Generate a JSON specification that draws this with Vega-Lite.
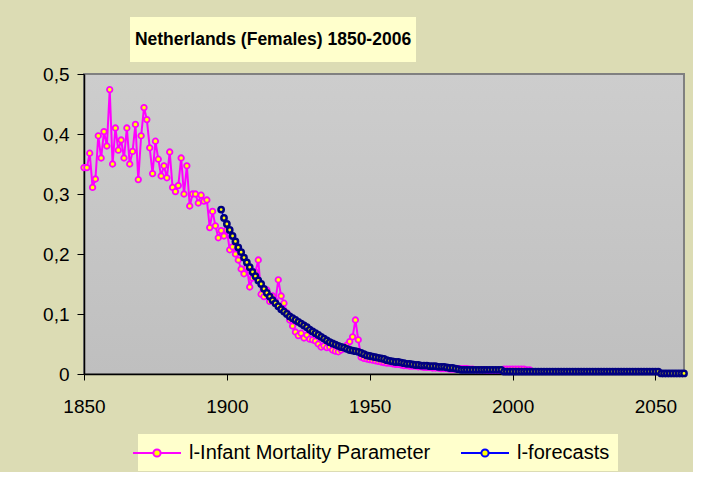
{
  "$schema": "https://vega.github.io/schema/vega-lite/v6.json",
  "background": "#dcdcb4",
  "padding": {"left": 41, "top": 17, "right": 0, "bottom": 0},
  "spacing": 2,
  "resolve": {"scale": {"color": "independent"}},
  "config": {"view": {"stroke": null}, "concat": {"spacing": 0}},
  "vconcat": [
    {
      "hconcat": [
        {"width": 46, "height": 45, "data": {"values": []}, "mark": "point"},
        {
          "width": 286, "height": 45,
          "view": {"fill": "#ffffcc", "stroke": null},
          "data": {"values": [{"title": "Netherlands (Females) 1850-2006"}]},
          "mark": {"type": "text", "font": "Liberation Sans", "fontSize": 17.5, "fontWeight": "bold", "color": "#000000", "align": "center", "baseline": "middle"},
          "encoding": {"text": {"field": "title", "type": "nominal"}}
        }
      ],
      "spacing": 0
    },
    {
      "width": 600,
      "height": 300,
      "view": {
        "fill": {"gradient": "linear", "x1": 0, "y1": 0, "x2": 0, "y2": 1, "stops": [{"offset": 0, "color": "#cdcdcd"}, {"offset": 1, "color": "#bfbfbf"}]},
        "stroke": "#808080",
        "strokeWidth": 2
      },
      "data": {"values": [
        {"year":1850,"imp":0.344},{"year":1851,"imp":0.344},{"year":1852,"imp":0.368},{"year":1853,"imp":0.311},{"year":1854,"imp":0.325},
        {"year":1855,"imp":0.397},{"year":1856,"imp":0.360},{"year":1857,"imp":0.404},{"year":1858,"imp":0.380},{"year":1859,"imp":0.474},
        {"year":1860,"imp":0.350},{"year":1861,"imp":0.410},{"year":1862,"imp":0.373},{"year":1863,"imp":0.390},{"year":1864,"imp":0.360},
        {"year":1865,"imp":0.410},{"year":1866,"imp":0.350},{"year":1867,"imp":0.371},{"year":1868,"imp":0.416},{"year":1869,"imp":0.324},
        {"year":1870,"imp":0.397},{"year":1871,"imp":0.444},{"year":1872,"imp":0.424},{"year":1873,"imp":0.377},{"year":1874,"imp":0.334},
        {"year":1875,"imp":0.388},{"year":1876,"imp":0.358},{"year":1877,"imp":0.330},{"year":1878,"imp":0.347},{"year":1879,"imp":0.327},
        {"year":1880,"imp":0.370},{"year":1881,"imp":0.311},{"year":1882,"imp":0.304},{"year":1883,"imp":0.314},{"year":1884,"imp":0.360},
        {"year":1885,"imp":0.300},{"year":1886,"imp":0.347},{"year":1887,"imp":0.280},{"year":1888,"imp":0.300},{"year":1889,"imp":0.300},
        {"year":1890,"imp":0.285},{"year":1891,"imp":0.298},{"year":1892,"imp":0.288},{"year":1893,"imp":0.290},{"year":1894,"imp":0.244},
        {"year":1895,"imp":0.271},{"year":1896,"imp":0.247},{"year":1897,"imp":0.227},
        {"year":1898,"imp":0.239,"fc":0.274},{"year":1899,"imp":0.230,"fc":0.260},{"year":1900,"imp":0.240,"fc":0.250},
        {"year":1901,"imp":0.207,"fc":0.240},{"year":1902,"imp":0.212,"fc":0.230},{"year":1903,"imp":0.200,"fc":0.221},
        {"year":1904,"imp":0.190,"fc":0.211},{"year":1905,"imp":0.175,"fc":0.203},{"year":1906,"imp":0.167,"fc":0.194},
        {"year":1907,"imp":0.178,"fc":0.186},{"year":1908,"imp":0.145,"fc":0.178},{"year":1909,"imp":0.160,"fc":0.170},
        {"year":1910,"imp":0.170,"fc":0.163},{"year":1911,"imp":0.190,"fc":0.156},{"year":1912,"imp":0.133,"fc":0.150},
        {"year":1913,"imp":0.129,"fc":0.142},{"year":1914,"imp":0.140,"fc":0.135},{"year":1915,"imp":0.121,"fc":0.129},
        {"year":1916,"imp":0.130,"fc":0.123},{"year":1917,"imp":0.122,"fc":0.118},{"year":1918,"imp":0.157,"fc":0.113},
        {"year":1919,"imp":0.130,"fc":0.108},{"year":1920,"imp":0.118,"fc":0.104},{"year":1921,"imp":0.102,"fc":0.100},
        {"year":1922,"imp":0.090,"fc":0.096},{"year":1923,"imp":0.080,"fc":0.093},{"year":1924,"imp":0.070,"fc":0.090},
        {"year":1925,"imp":0.064,"fc":0.087},{"year":1926,"imp":0.068,"fc":0.084},{"year":1927,"imp":0.060,"fc":0.081},
        {"year":1928,"imp":0.065,"fc":0.078},{"year":1929,"imp":0.058,"fc":0.074},{"year":1930,"imp":0.057,"fc":0.071},
        {"year":1931,"imp":0.055,"fc":0.068},{"year":1932,"imp":0.050,"fc":0.065},{"year":1933,"imp":0.045,"fc":0.062},
        {"year":1934,"imp":0.047,"fc":0.059},{"year":1935,"imp":0.044,"fc":0.056},{"year":1936,"imp":0.045,"fc":0.053},
        {"year":1937,"imp":0.040,"fc":0.051},{"year":1938,"imp":0.038,"fc":0.049},{"year":1939,"imp":0.037,"fc":0.047},
        {"year":1940,"imp":0.040,"fc":0.045},{"year":1941,"imp":0.042,"fc":0.044},{"year":1942,"imp":0.048,"fc":0.042},
        {"year":1943,"imp":0.054,"fc":0.040},{"year":1944,"imp":0.062,"fc":0.039},{"year":1945,"imp":0.090,"fc":0.038},
        {"year":1946,"imp":0.057,"fc":0.037},{"year":1947,"imp":0.028,"fc":0.035},{"year":1948,"imp":0.026,"fc":0.033},
        {"year":1949,"imp":0.025,"fc":0.031},{"year":1950,"imp":0.024,"fc":0.030},{"year":1951,"imp":0.023,"fc":0.029},
        {"year":1952,"imp":0.022,"fc":0.028},{"year":1953,"imp":0.021,"fc":0.027},{"year":1954,"imp":0.020,"fc":0.026},
        {"year":1955,"imp":0.019,"fc":0.025},{"year":1956,"imp":0.018,"fc":0.023},{"year":1957,"imp":0.018,"fc":0.022},
        {"year":1958,"imp":0.017,"fc":0.021},{"year":1959,"imp":0.016,"fc":0.020},{"year":1960,"imp":0.016,"fc":0.020},
        {"year":1961,"imp":0.015,"fc":0.019},{"year":1962,"imp":0.014,"fc":0.018},{"year":1963,"imp":0.014,"fc":0.017},
        {"year":1964,"imp":0.013,"fc":0.017},{"year":1965,"imp":0.013,"fc":0.016},{"year":1966,"imp":0.013,"fc":0.015},
        {"year":1967,"imp":0.012,"fc":0.015},{"year":1968,"imp":0.012,"fc":0.014},{"year":1969,"imp":0.011,"fc":0.014},
        {"year":1970,"imp":0.011,"fc":0.014},{"year":1971,"imp":0.011,"fc":0.013},{"year":1972,"imp":0.010,"fc":0.013},
        {"year":1973,"imp":0.010,"fc":0.013},{"year":1974,"imp":0.010,"fc":0.012},{"year":1975,"imp":0.009,"fc":0.012},
        {"year":1976,"imp":0.009,"fc":0.012},{"year":1977,"imp":0.009,"fc":0.011},{"year":1978,"imp":0.008,"fc":0.010},
        {"year":1979,"imp":0.008,"fc":0.010},{"year":1980,"imp":0.008,"fc":0.009},{"year":1981,"imp":0.009,"fc":0.008},
        {"year":1982,"imp":0.009,"fc":0.007},{"year":1983,"imp":0.009,"fc":0.007},{"year":1984,"imp":0.009,"fc":0.007},
        {"year":1985,"imp":0.008,"fc":0.007},{"year":1986,"imp":0.008,"fc":0.007},{"year":1987,"imp":0.007,"fc":0.007},
        {"year":1988,"imp":0.007,"fc":0.007},{"year":1989,"imp":0.007,"fc":0.007},{"year":1990,"imp":0.007,"fc":0.007},
        {"year":1991,"imp":0.006,"fc":0.007},{"year":1992,"imp":0.006,"fc":0.007},{"year":1993,"imp":0.006,"fc":0.007},
        {"year":1994,"imp":0.006,"fc":0.007},{"year":1995,"imp":0.006,"fc":0.007},{"year":1996,"imp":0.007,"fc":0.007},
        {"year":1997,"imp":0.008,"fc":0.004},{"year":1998,"imp":0.008,"fc":0.004},{"year":1999,"imp":0.008,"fc":0.004},
        {"year":2000,"imp":0.008,"fc":0.004},{"year":2001,"imp":0.008,"fc":0.004},{"year":2002,"imp":0.008,"fc":0.004},
        {"year":2003,"imp":0.008,"fc":0.004},{"year":2004,"imp":0.008,"fc":0.004},{"year":2005,"imp":0.007,"fc":0.004},
        {"year":2006,"imp":0.007,"fc":0.004},
        {"year":2007,"fc":0.004},{"year":2008,"fc":0.004},{"year":2009,"fc":0.004},{"year":2010,"fc":0.004},{"year":2011,"fc":0.004},
        {"year":2012,"fc":0.004},{"year":2013,"fc":0.004},{"year":2014,"fc":0.004},{"year":2015,"fc":0.004},{"year":2016,"fc":0.004},
        {"year":2017,"fc":0.004},{"year":2018,"fc":0.004},{"year":2019,"fc":0.004},{"year":2020,"fc":0.004},{"year":2021,"fc":0.004},
        {"year":2022,"fc":0.004},{"year":2023,"fc":0.004},{"year":2024,"fc":0.004},{"year":2025,"fc":0.004},{"year":2026,"fc":0.004},
        {"year":2027,"fc":0.004},{"year":2028,"fc":0.004},{"year":2029,"fc":0.004},{"year":2030,"fc":0.004},{"year":2031,"fc":0.004},
        {"year":2032,"fc":0.004},{"year":2033,"fc":0.004},{"year":2034,"fc":0.004},{"year":2035,"fc":0.004},{"year":2036,"fc":0.004},
        {"year":2037,"fc":0.004},{"year":2038,"fc":0.004},{"year":2039,"fc":0.004},{"year":2040,"fc":0.004},{"year":2041,"fc":0.004},
        {"year":2042,"fc":0.004},{"year":2043,"fc":0.004},{"year":2044,"fc":0.004},{"year":2045,"fc":0.004},{"year":2046,"fc":0.004},
        {"year":2047,"fc":0.004},{"year":2048,"fc":0.004},{"year":2049,"fc":0.004},{"year":2050,"fc":0.004},{"year":2051,"fc":0.004},
        {"year":2052,"fc":0.001},{"year":2053,"fc":0.001},{"year":2054,"fc":0.001},{"year":2055,"fc":0.001},{"year":2056,"fc":0.001},
        {"year":2057,"fc":0.001},{"year":2058,"fc":0.001},{"year":2059,"fc":0.001},{"year":2060,"fc":0.001}
      ]},
      "transform": [
        {"fold": ["imp", "fc"], "as": ["series", "value"]},
        {"filter": "isValid(datum.value)"}
      ],
      "encoding": {
        "x": {
          "field": "year", "type": "quantitative",
          "scale": {"domain": [1850, 2060], "nice": false, "zero": false},
          "axis": {"values": [1850, 1900, 1950, 2000, 2050], "format": "d", "title": null, "grid": false,
                   "labelFont": "Liberation Sans", "labelFontSize": 19, "labelColor": "#000000", "labelFlush": false,
                   "tickColor": "#000000", "tickSize": 6, "tickWidth": 1, "domainColor": "#000000", "domainWidth": 1.5, "labelPadding": 17}
        },
        "y": {
          "field": "value", "type": "quantitative",
          "scale": {"domain": [0, 0.5], "nice": false},
          "axis": {"values": [0, 0.1, 0.2, 0.3, 0.4, 0.5], "labelExpr": "datum.value == 0 ? '0' : replace(format(datum.value, '.1f'), '.', ',')",
                   "title": null, "grid": false, "labelFont": "Liberation Sans", "labelFontSize": 19, "labelColor": "#000000",
                   "tickColor": "#000000", "tickSize": 7, "tickWidth": 1, "domainColor": "#000000", "domainWidth": 1.5, "labelPadding": 8}
        }
      },
      "layer": [
        {
          "transform": [{"filter": "datum.series == 'imp'"}],
          "mark": {"type": "line", "strokeWidth": 2},
          "encoding": {
            "color": {
              "field": "series", "type": "nominal",
              "scale": {"domain": ["imp", "fc"], "range": ["#ff00ff", "#0000ff"]},
              "legend": {
                "orient": "none", "legendX": 54, "legendY": 360,
                "direction": "horizontal", "title": null,
                "labelExpr": "datum.value == 'imp' ? 'l-Infant Mortality Parameter' : 'l-forecasts'",
                "symbolType": "M-2.4,0H-0.36M0.36,0H2.4M-0.36,0A0.36,0.36,0,1,1,0.36,0A0.36,0.36,0,1,1,-0.36,0",
                "symbolSize": 400, "symbolStrokeWidth": 2,
                "labelFont": "Liberation Sans", "labelFontSize": 20, "labelColor": "#000000", "labelLimit": 500,
                "labelOffset": 21, "columnPadding": 26,
                "fillColor": "#ffffcc", "padding": 8,
                "encode": {"symbols": {"update": {"fill": {"value": "#ffff00"}}}}
              }
            }
          }
        },
        {
          "transform": [{"filter": "datum.series == 'imp'"}],
          "mark": {"type": "point", "shape": "circle", "filled": true, "fill": "#ffff00", "stroke": "#ff00ff", "strokeWidth": 1.8, "size": 30, "opacity": 1}
        },
        {
          "transform": [{"filter": "datum.series == 'fc'"}],
          "mark": {"type": "line", "strokeWidth": 1.5},
          "encoding": {"color": {"field": "series", "type": "nominal"}}
        },
        {
          "transform": [{"filter": "datum.series == 'fc'"}],
          "mark": {"type": "point", "shape": "circle", "filled": true, "fill": "#ffff00", "stroke": "#000080", "strokeWidth": 2.5, "size": 28, "opacity": 1}
        }
      ]
    }
  ]
}
